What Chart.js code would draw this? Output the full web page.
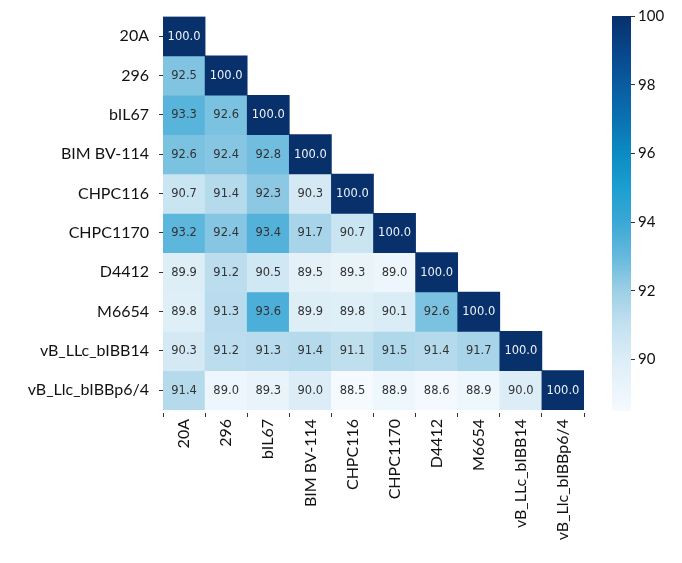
<!DOCTYPE html>
<html>
<head>
<meta charset="utf-8">
<script src="https://cdn.jsdelivr.net/npm/chart.js@4.4.1/dist/chart.umd.min.js"></script>
<style>
  html, body { margin: 0; padding: 0; background: #ffffff; }
  #wrap { position: relative; width: 682px; height: 563px; }
  #main { position: absolute; left: 0; top: 0; }
  #cbar { position: absolute; left: 600px; top: 0; }
</style>
</head>
<body>
<div id="wrap">
  <canvas id="main" width="600" height="563"></canvas>
  <canvas id="cbar" width="82" height="563"></canvas>
</div>
<script>
// ---- data ----
const strains = ["20A", "296", "bIL67", "BIM BV-114", "CHPC116", "CHPC1170", "D4412", "M6654", "vB_LLc_bIBB14", "vB_Llc_bIBBp6/4"];
const row20A      = [100.0];
const row296      = [92.5, 100.0];
const rowBIL67    = [93.3, 92.6, 100.0];
const rowBIMBV114 = [92.6, 92.4, 92.8, 100.0];
const rowCHPC116  = [90.7, 91.4, 92.3, 90.3, 100.0];
const rowCHPC1170 = [93.2, 92.4, 93.4, 91.7, 90.7, 100.0];
const rowD4412    = [89.9, 91.2, 90.5, 89.5, 89.3, 89.0, 100.0];
const rowM6654    = [89.8, 91.3, 93.6, 89.9, 89.8, 90.1, 92.6, 100.0];
const rowBIBB14   = [90.3, 91.2, 91.3, 91.4, 91.1, 91.5, 91.4, 91.7, 100.0];
const rowBIBBp64  = [91.4, 89.0, 89.3, 90.0, 88.5, 88.9, 88.6, 88.9, 90.0, 100.0];
const identityRows = [row20A, row296, rowBIL67, rowBIMBV114, rowCHPC116, rowCHPC1170, rowD4412, rowM6654, rowBIBB14, rowBIBBp64];
const colorbarTicks = [90, 92, 94, 96, 98, 100];

// ---- colour map (value -> colour) ----
const cmapStops = [
  [88.5, "#f5fafe"], [90, "#dcedf7"], [91, "#c3e1f0"], [92, "#9dcfe6"],
  [93, "#65b9dd"], [94, "#3ba8d6"], [95, "#1b9fd0"], [96, "#0c8bc3"],
  [97, "#0a72b1"], [98, "#0a5ba0"], [99, "#08468a"], [100, "#08306b"]
];
const allVals = identityRows.flat();
const vmin = Math.min(...allVals);
const vmax = Math.max(...allVals);

function hexToRgb(h) { return [parseInt(h.slice(1,3),16), parseInt(h.slice(3,5),16), parseInt(h.slice(5,7),16)]; }
function colorFor(v) {
  if (v <= cmapStops[0][0]) return cmapStops[0][1];
  for (let k = 1; k < cmapStops.length; k++) {
    const [v1, c1] = cmapStops[k];
    const [v0, c0] = cmapStops[k-1];
    if (v <= v1) {
      const t = (v - v0) / (v1 - v0);
      const a = hexToRgb(c0), b = hexToRgb(c1);
      const r = a.map((x, i) => Math.round(x + (b[i] - x) * t));
      return `rgb(${r[0]},${r[1]},${r[2]})`;
    }
  }
  return cmapStops[cmapStops.length-1][1];
}

const LABEL_FONT = { family: "Lato, 'DejaVu Sans', sans-serif", size: 16 };

// ---- heatmap: one floating-bar dataset per row ----
const datasets = identityRows.map((vals, i) => ({
  label: strains[i],
  data: strains.map((_, j) => j < vals.length ? [i - 0.5, i + 0.5] : null),
  values: vals,
  backgroundColor: strains.map((_, j) => j < vals.length ? colorFor(vals[j]) : "rgba(0,0,0,0)"),
  borderWidth: 0,
  barPercentage: 1,
  categoryPercentage: 1,
  grouped: false
}));

const cellText = {
  id: "cellText",
  afterDatasetsDraw(chart) {
    const ctx = chart.ctx;
    ctx.save();
    ctx.font = "11.5px 'DejaVu Sans', sans-serif";
    ctx.textAlign = "center";
    ctx.textBaseline = "middle";
    chart.data.datasets.forEach((ds, di) => {
      const meta = chart.getDatasetMeta(di);
      meta.data.forEach((el, j) => {
        if (j >= ds.values.length) return;
        const v = ds.values[j];
        ctx.fillStyle = v >= 96 ? "#eef3f9" : "#333333";
        ctx.fillText(v.toFixed(1), el.x, (el.y + el.base) / 2 + 0.5);
      });
    });
    ctx.restore();
  }
};

new Chart(document.getElementById("main"), {
  type: "bar",
  data: { labels: strains, datasets },
  options: {
    responsive: false,
    animation: false,
    devicePixelRatio: 1,
    layout: { padding: { top: 16, right: 16, left: 0, bottom: 0 } },
    plugins: { legend: { display: false }, tooltip: { enabled: false } },
    scales: {
      x: {
        type: "category",
        offset: true,
        border: { display: false },
        grid: { display: true, drawOnChartArea: false, drawTicks: true, tickLength: 7, tickColor: "#333", tickBorderDash: [0, 3, 4, 100] },
        ticks: { color: "#111", font: LABEL_FONT, minRotation: 90, maxRotation: 90, padding: 2, autoSkip: false },
        afterFit(s) { s.height = 563 - 410; }
      },
      y: {
        type: "linear",
        reverse: true,
        min: -0.5,
        max: strains.length - 0.5,
        border: { display: false },
        grid: { display: true, drawOnChartArea: false, drawTicks: true, tickLength: 7, tickColor: "#333", tickBorderDash: [0, 3, 4, 100] },
        afterBuildTicks(s) { s.ticks = strains.map((_, i) => ({ value: i })); },
        ticks: { color: "#111", font: LABEL_FONT, padding: 7, callback: (v) => strains[v] },
        afterFit(s) { s.width = 163; }
      }
    }
  },
  plugins: [cellText]
});

// ---- colour bar ----
new Chart(document.getElementById("cbar"), {
  type: "bar",
  data: {
    labels: [""],
    datasets: [{
      data: [[vmin, vmax]],
      borderWidth: 0,
      barPercentage: 1,
      categoryPercentage: 1,
      backgroundColor(c) {
        const ca = c.chart.chartArea;
        if (!ca) return "#9dcfe6";
        const ys = c.chart.scales.y;
        const g = c.chart.ctx.createLinearGradient(0, ys.getPixelForValue(vmin), 0, ys.getPixelForValue(vmax));
        cmapStops.forEach(([v, col]) => g.addColorStop((v - vmin) / (vmax - vmin), col));
        return g;
      }
    }]
  },
  options: {
    responsive: false,
    animation: false,
    devicePixelRatio: 1,
    layout: { padding: { top: 16, bottom: 152, left: 12, right: 0 } },
    plugins: { legend: { display: false }, tooltip: { enabled: false } },
    scales: {
      x: { display: false, offset: true },
      y: {
        position: "right",
        min: vmin,
        max: vmax,
        border: { display: false },
        grid: { display: true, drawOnChartArea: false, tickLength: 4, tickColor: "#333" },
        afterBuildTicks(s) { s.ticks = colorbarTicks.map(v => ({ value: v })); },
        ticks: { color: "#111", font: { family: "Lato, 'DejaVu Sans', sans-serif", size: 15 }, padding: 3 },
        afterFit(s) { s.width = 51; }
      }
    }
  }
});
</script>
</body>
</html>
